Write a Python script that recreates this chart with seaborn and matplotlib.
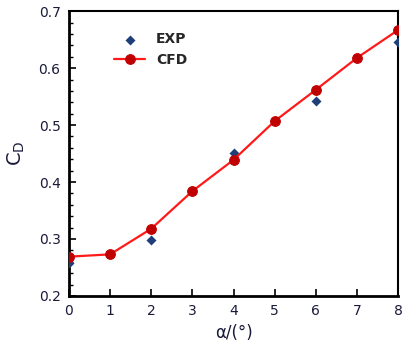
import numpy as np
import pandas as pd
import seaborn as sns
import matplotlib
matplotlib.use("Agg")
import matplotlib.pyplot as plt
from matplotlib.ticker import MultipleLocator

# angle of attack (deg) and drag coefficient
alpha_exp = [0, 2, 4, 6, 8]
cd_exp = [0.258, 0.298, 0.451, 0.543, 0.645]

alpha_cfd = [0, 1, 2, 3, 4, 5, 6, 7, 8]
cd_cfd = [0.269, 0.273, 0.318, 0.384, 0.439, 0.507, 0.562, 0.618, 0.667]

df_exp = pd.DataFrame({"alpha": alpha_exp, "cd": cd_exp})
df_cfd = pd.DataFrame({"alpha": alpha_cfd, "cd": cd_cfd})

sns.set_style("ticks")
plt.rcParams['font.family'] = ['DejaVu Sans']

fig = plt.figure(figsize=(4.03, 3.49), dpi=100)
ax = fig.add_axes([0.171, 0.152, 0.817, 0.816])

sns.scatterplot(data=df_exp, x="alpha", y="cd", marker="D", s=26, color="#1f3f7a",
                edgecolor="#1f3f7a", linewidth=0, label="EXP", ax=ax, zorder=3)
sns.lineplot(data=df_cfd, x="alpha", y="cd", color="#ff1a1a", linewidth=1.6,
             marker="o", markersize=7, markerfacecolor="#c00000",
             markeredgecolor="#c00000", label="CFD", ax=ax, zorder=4)

ax.set_xlim(0, 8)
ax.set_ylim(0.2, 0.7)
ax.xaxis.set_major_locator(MultipleLocator(1))
ax.yaxis.set_major_locator(MultipleLocator(0.1))
ax.yaxis.set_minor_locator(MultipleLocator(0.02))
ax.yaxis.set_major_formatter(matplotlib.ticker.FormatStrFormatter("%.1f"))

ax.tick_params(axis="both", which="major", direction="in", length=5, width=1.2,
               labelsize=10, colors="black", labelcolor="#1a1a3a", pad=6)
ax.tick_params(axis="y", which="minor", direction="in", length=3, width=1.0,
               colors="black")
ax.tick_params(top=False, right=False)

for side in ["left", "bottom"]:
    ax.spines[side].set_linewidth(2.0)
for side in ["top", "right"]:
    ax.spines[side].set_linewidth(1.5)
    ax.spines[side].set_visible(True)
for side in ax.spines:
    ax.spines[side].set_color("black")

ax.set_xlabel("α/(°)", fontsize=12, color="#1a1a3a", labelpad=4)
ax.set_ylabel("$\\mathregular{C_D}$", fontsize=14, color="#1a1a3a", labelpad=8)

leg = ax.legend(loc="upper left", bbox_to_anchor=(0.1, 0.97), frameon=False,
                prop={"weight": "bold", "size": 10}, handlelength=2.2,
                handletextpad=0.8, labelspacing=0.5)

fig.savefig("out.png", dpi=100)
